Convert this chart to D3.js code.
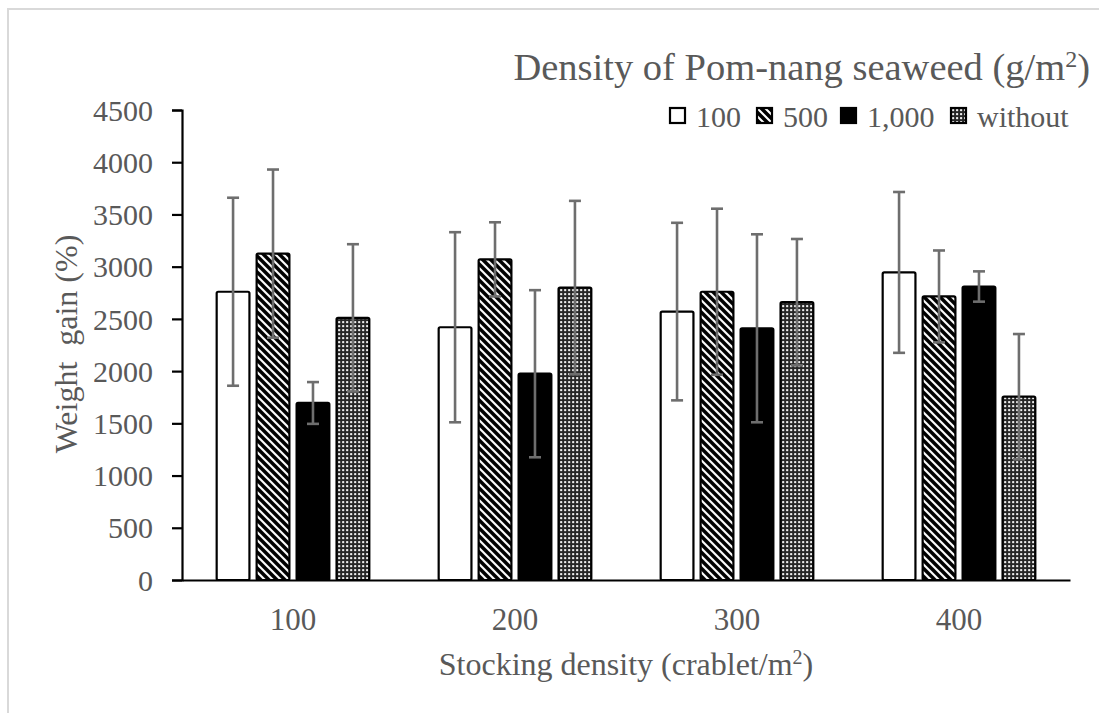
<!DOCTYPE html>
<html>
<head>
<meta charset="utf-8">
<script src="https://cdn.jsdelivr.net/npm/d3@7"></script>
<style>
  html, body { margin: 0; padding: 0; background: #fff; }
  svg { display: block; }
  text { font-family: "Liberation Serif", "Times New Roman", serif; fill: #595959; }
</style>
</head>
<body>
<svg id="chart" width="1099" height="713"></svg>
<script>
// Stocking density groups (crablet/m2)
const categories = ["100", "200", "300", "400"];
// Pom-nang seaweed density series (g/m2)
const seriesNames = ["100", "500", "1,000", "without"];

// Mean weight gain (%) per series, one value per stocking density
const gain100     = [2760, 2420, 2570, 2945];
const gain500     = [3125, 3070, 2760, 2715];
const gain1000    = [1695, 1975, 2410, 2810];
const gainWithout = [2510, 2800, 2660, 1755];

// Standard deviations for the error bars
const sd100     = [900, 910, 850, 770];
const sd500     = [805, 355, 795, 440];
const sd1000    = [200, 800, 900, 145];
const sdWithout = [705, 830, 605, 600];

const yTicks = [0, 500, 1000, 1500, 2000, 2500, 3000, 3500, 4000, 4500];

const means = [gain100, gain500, gain1000, gainWithout];
const sds = [sd100, sd500, sd1000, sdWithout];

const rows = [];
categories.forEach((c, ci) => {
  seriesNames.forEach((s, si) => {
    rows.push({ cat: c, series: s, si, value: means[si][ci], sd: sds[si][ci] });
  });
});

const svg = d3.select("#chart");
const W = 1099, H = 713;
const plotLeft = 182, plotRight = 1070, plotTop = 110, plotBottom = 580;

// fill patterns
const defs = svg.append("defs");
const hatch = defs.append("pattern")
  .attr("id", "hatch").attr("patternUnits", "userSpaceOnUse")
  .attr("width", 8).attr("height", 8);
hatch.append("rect").attr("width", 8).attr("height", 8).attr("fill", "#000");
hatch.append("path")
  .attr("d", "M-2,-2 L10,10 M-2,6 L2,10 M6,-2 L10,2")
  .attr("stroke", "#fff").attr("stroke-width", 2.1);

const dots = defs.append("pattern")
  .attr("id", "dots").attr("patternUnits", "userSpaceOnUse")
  .attr("width", 4).attr("height", 4);
dots.append("rect").attr("width", 4).attr("height", 4).attr("fill", "#262626");
dots.append("rect").attr("x", 1).attr("y", 1).attr("width", 2.2).attr("height", 2.2)
  .attr("rx", 0.8).attr("fill", "#ededed");

const fills = { "100": "#fff", "500": "url(#hatch)", "1,000": "#000", "without": "url(#dots)" };

// chart frame
svg.append("rect").attr("x", 0).attr("y", 0).attr("width", W).attr("height", H).attr("fill", "#fff");
svg.append("path")
  .attr("d", `M8,${H + 5} L8,9 L${W + 5},9`)
  .attr("fill", "none").attr("stroke", "#d9d9d9").attr("stroke-width", 2);

// scales
const x0 = d3.scaleBand().domain(categories).range([plotLeft, plotRight]).paddingInner(0.28).paddingOuter(0.14);
const x1 = d3.scaleBand().domain(seriesNames).range([0, x0.bandwidth()]).paddingInner(0.18).paddingOuter(0.09);
const y = d3.scaleLinear().domain([0, 4500]).range([plotBottom, plotTop]);

// y axis
const yAxis = svg.append("g").attr("transform", `translate(${plotLeft},0)`)
  .call(d3.axisLeft(y).tickValues(yTicks).tickSize(10).tickPadding(19).tickFormat(d3.format("d")));
yAxis.select(".domain").attr("stroke", "#000").attr("stroke-width", 2.2);
yAxis.selectAll(".tick line").attr("stroke", "#000").attr("stroke-width", 2.2);
yAxis.selectAll(".tick text").attr("font-size", 30).attr("fill", "#595959")
  .attr("font-family", "Liberation Serif").attr("dy", "0.34em");

// bars
const groups = svg.append("g").selectAll("g")
  .data(categories).join("g")
  .attr("transform", d => `translate(${x0(d)},0)`);

groups.selectAll("rect")
  .data(c => rows.filter(r => r.cat === c))
  .join("rect")
  .attr("x", d => x1(d.series))
  .attr("y", d => y(d.value))
  .attr("width", x1.bandwidth())
  .attr("height", d => y(0) - y(d.value))
  .attr("rx", 1.5)
  .attr("fill", d => fills[d.series])
  .attr("stroke", "#000").attr("stroke-width", 2.2);

// error bars
const eb = groups.selectAll("g.err")
  .data(c => rows.filter(r => r.cat === c))
  .join("g").attr("class", "err")
  .attr("stroke", "#6e6e6e").attr("stroke-width", 2.6);
const cx = d => x1(d.series) + x1.bandwidth() / 2;
eb.append("line")
  .attr("x1", cx).attr("x2", cx)
  .attr("y1", d => y(d.value + d.sd)).attr("y2", d => y(d.value - d.sd));
eb.append("line")
  .attr("x1", d => cx(d) - 6).attr("x2", d => cx(d) + 6)
  .attr("y1", d => y(d.value + d.sd)).attr("y2", d => y(d.value + d.sd));
eb.append("line")
  .attr("x1", d => cx(d) - 6).attr("x2", d => cx(d) + 6)
  .attr("y1", d => y(d.value - d.sd)).attr("y2", d => y(d.value - d.sd));

// x axis
const xAxis = svg.append("g").attr("transform", `translate(0,${plotBottom})`)
  .call(d3.axisBottom(x0).tickSize(0).tickPadding(28).tickSizeOuter(0));
xAxis.select(".domain").attr("stroke", "#000").attr("stroke-width", 2.2);
xAxis.selectAll(".tick text").attr("font-size", 31).attr("fill", "#595959")
  .attr("font-family", "Liberation Serif");

// axis titles
svg.append("text")
  .attr("x", 626).attr("y", 675)
  .attr("text-anchor", "middle").attr("font-size", 32)
  .html('Stocking density (crablet/m<tspan baseline-shift="super" font-size="20">2</tspan>)');

svg.append("text")
  .attr("transform", "translate(77,344) rotate(-90)")
  .attr("text-anchor", "middle").attr("font-size", 32)
  .attr("xml:space", "preserve")
  .text("Weight  gain (%)");

// legend
svg.append("text")
  .attr("x", 1090).attr("y", 80)
  .attr("text-anchor", "end").attr("font-size", 38.5)
  .html('Density of Pom-nang seaweed (g/m<tspan baseline-shift="super" font-size="24">2</tspan>)');

const legendX = [670, 757, 841, 951];
const legend = svg.append("g").selectAll("g")
  .data(seriesNames).join("g")
  .attr("transform", (d, i) => `translate(${legendX[i]},108)`);
legend.append("rect")
  .attr("width", 15).attr("height", 15)
  .attr("fill", d => fills[d]).attr("stroke", "#000").attr("stroke-width", 2.2);
legend.append("text")
  .attr("x", 26).attr("y", 19)
  .attr("font-size", 30)
  .text(d => d);
</script>
</body>
</html>
